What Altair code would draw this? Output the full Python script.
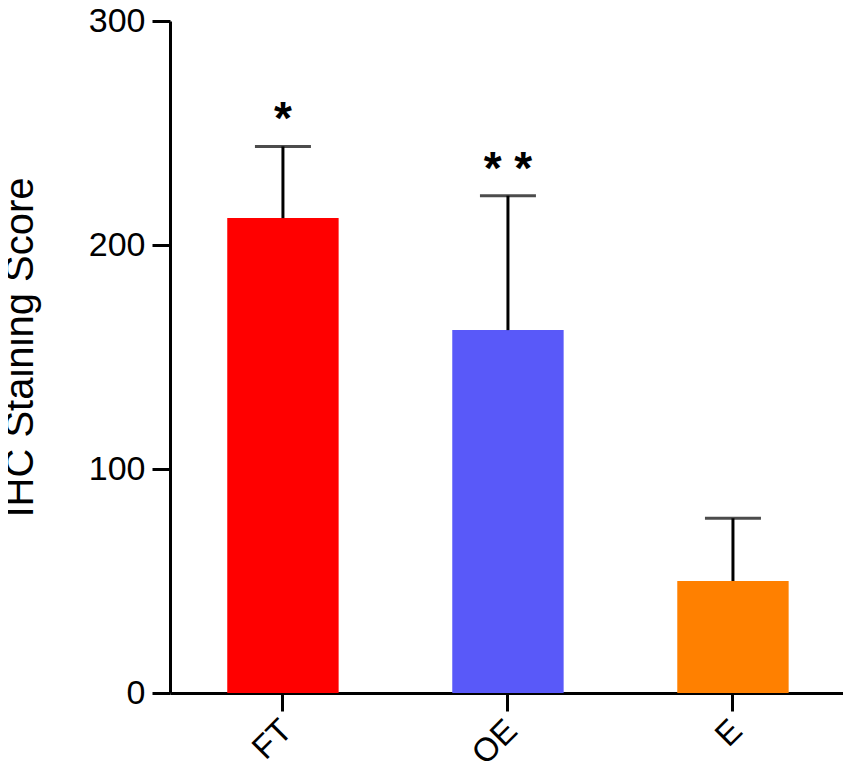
import altair as alt
import pandas as pd

groups = ["FT", "OE", "E"]
means = [212, 162, 50]
upper = [244, 222, 78]
stars = ["*", "* *", ""]
colors = ["#FF0000", "#5959F9", "#FF8000"]

df = pd.DataFrame({"group": groups, "mean": means, "upper": upper, "star": stars})

FONT = "Liberation Sans"

xscale = alt.Scale(paddingInner=0.505, paddingOuter=0.248, align=0.513)

x = alt.X("group:N", sort=groups, title=None, scale=xscale,
          axis=alt.Axis(labelAngle=-45, labelAlign="right", labelBaseline="middle",
                        labelFontSize=33, labelPadding=14, labelOffset=4,
                        labelColor="black", labelFont=FONT,
                        domainColor="black", domainWidth=3, tickColor="black",
                        tickWidth=3, tickSize=18))
y = alt.Y("mean:Q", title="IHC Staining Score",
          scale=alt.Scale(domain=[0, 300], nice=False),
          axis=alt.Axis(values=[0, 100, 200, 300], grid=False, labelFontSize=34,
                        labelFont=FONT, labelColor="black", labelPadding=7,
                        domainColor="black", domainWidth=3, tickColor="black",
                        tickWidth=3, tickSize=18, titleFont=FONT, titleFontSize=40,
                        titleFontWeight="normal", titleColor="black",
                        titleAngle=-90, titleAlign="center",
                        titleX=-138, titleY=326, titleBaseline="alphabetic"))

base = alt.Chart(df)

bars = base.mark_bar().encode(
    x=x, y=y,
    color=alt.Color("group:N", scale=alt.Scale(domain=groups, range=colors), legend=None),
)
stem = base.mark_rule(color="black", strokeWidth=3).encode(
    x=alt.X("group:N", sort=groups), y="mean:Q", y2="upper:Q")
cap = base.mark_tick(color="black", thickness=3, size=56).encode(
    x=alt.X("group:N", sort=groups), y="upper:Q")
text = base.mark_text(fontSize=46, font=FONT, fontWeight="bold", color="black",
                      baseline="middle", dy=-26).encode(
    x=alt.X("group:N", sort=groups), y="upper:Q", text="star:N")

chart = alt.layer(bars, stem, cap, text).properties(
    width=673, height=672,
    background="white",
    autosize=alt.AutoSizeParams(type="none"),
    padding={"left": 162, "top": 13, "right": 0, "bottom": 81},
).configure_view(stroke=None)

chart.save("out.html", embed_options={"renderer": "svg", "actions": False})
